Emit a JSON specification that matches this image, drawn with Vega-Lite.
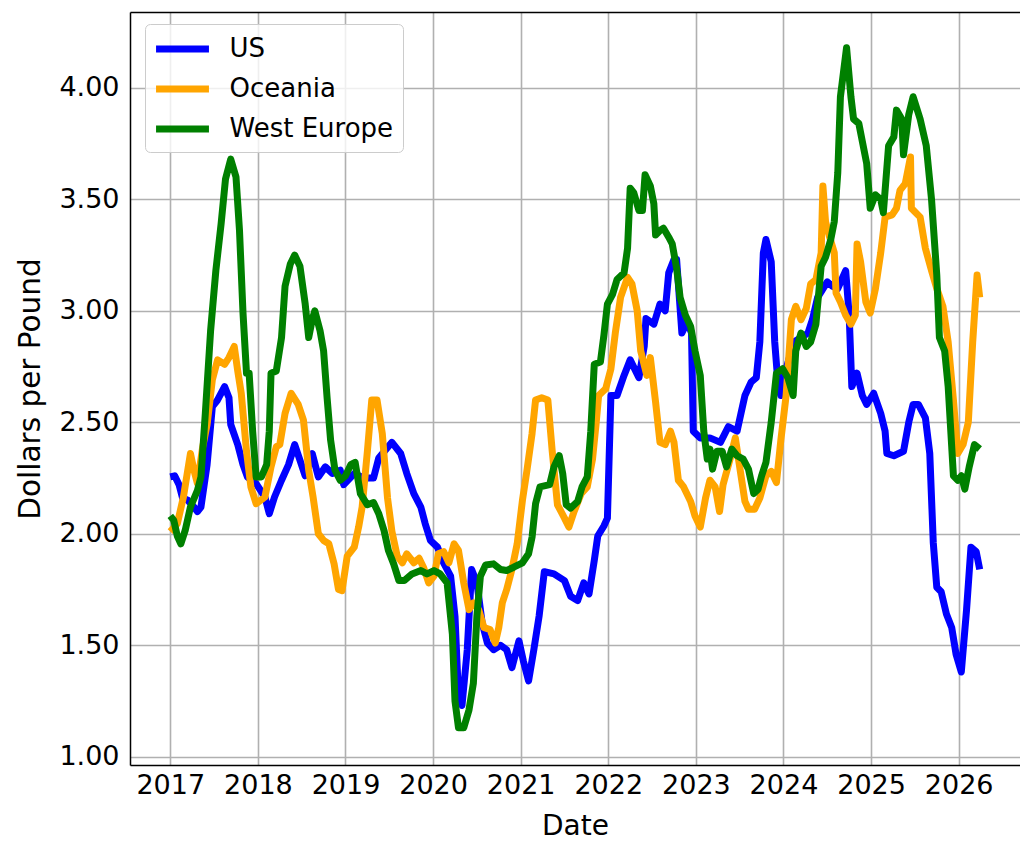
{
"$schema": "https://vega.github.io/schema/vega-lite/v6.json",
"width": 890, "height": 753,
"autosize": {"type": "none"},
"padding": {"left": 130, "top": 12, "right": 0, "bottom": 77},
"background": "white",
"config": {"view": {"stroke": null}, "font": "DejaVu Sans"},
"data": {"values": [
{"date":2017.00,"price":2.255,"region":"US"},{"date":2017.05,"price":2.26,"region":"US"},{"date":2017.10,"price":2.22,"region":"US"},{"date":2017.14,"price":2.16,"region":"US"},{"date":2017.20,"price":2.15,"region":"US"},{"date":2017.27,"price":2.12,"region":"US"},{"date":2017.31,"price":2.10,"region":"US"},{"date":2017.35,"price":2.12,"region":"US"},{"date":2017.42,"price":2.31,"region":"US"},{"date":2017.48,"price":2.57,"region":"US"},{"date":2017.54,"price":2.60,"region":"US"},{"date":2017.62,"price":2.66,"region":"US"},{"date":2017.67,"price":2.61,"region":"US"},{"date":2017.69,"price":2.49,"region":"US"},{"date":2017.77,"price":2.40,"region":"US"},{"date":2017.83,"price":2.31,"region":"US"},{"date":2017.88,"price":2.255,"region":"US"},{"date":2017.98,"price":2.225,"region":"US"},{"date":2018.08,"price":2.165,"region":"US"},{"date":2018.13,"price":2.09,"region":"US"},{"date":2018.19,"price":2.165,"region":"US"},{"date":2018.27,"price":2.24,"region":"US"},{"date":2018.35,"price":2.31,"region":"US"},{"date":2018.42,"price":2.40,"region":"US"},{"date":2018.48,"price":2.33,"region":"US"},{"date":2018.54,"price":2.26,"region":"US"},{"date":2018.62,"price":2.36,"region":"US"},{"date":2018.69,"price":2.255,"region":"US"},{"date":2018.77,"price":2.30,"region":"US"},{"date":2018.85,"price":2.27,"region":"US"},{"date":2018.94,"price":2.285,"region":"US"},{"date":2018.98,"price":2.22,"region":"US"},{"date":2019.10,"price":2.27,"region":"US"},{"date":2019.21,"price":2.25,"region":"US"},{"date":2019.32,"price":2.25,"region":"US"},{"date":2019.38,"price":2.34,"region":"US"},{"date":2019.53,"price":2.41,"region":"US"},{"date":2019.63,"price":2.36,"region":"US"},{"date":2019.70,"price":2.27,"region":"US"},{"date":2019.78,"price":2.18,"region":"US"},{"date":2019.86,"price":2.12,"region":"US"},{"date":2019.91,"price":2.045,"region":"US"},{"date":2019.97,"price":1.97,"region":"US"},{"date":2020.05,"price":1.94,"region":"US"},{"date":2020.12,"price":1.87,"region":"US"},{"date":2020.20,"price":1.81,"region":"US"},{"date":2020.25,"price":1.63,"region":"US"},{"date":2020.29,"price":1.27,"region":"US"},{"date":2020.33,"price":1.23,"region":"US"},{"date":2020.39,"price":1.48,"region":"US"},{"date":2020.44,"price":1.84,"region":"US"},{"date":2020.50,"price":1.78,"region":"US"},{"date":2020.56,"price":1.60,"region":"US"},{"date":2020.62,"price":1.51,"region":"US"},{"date":2020.69,"price":1.48,"region":"US"},{"date":2020.77,"price":1.50,"region":"US"},{"date":2020.84,"price":1.48,"region":"US"},{"date":2020.90,"price":1.40,"region":"US"},{"date":2020.98,"price":1.52,"region":"US"},{"date":2021.03,"price":1.43,"region":"US"},{"date":2021.09,"price":1.34,"region":"US"},{"date":2021.15,"price":1.48,"region":"US"},{"date":2021.21,"price":1.63,"region":"US"},{"date":2021.27,"price":1.83,"region":"US"},{"date":2021.38,"price":1.82,"region":"US"},{"date":2021.50,"price":1.79,"region":"US"},{"date":2021.57,"price":1.72,"region":"US"},{"date":2021.65,"price":1.70,"region":"US"},{"date":2021.72,"price":1.78,"region":"US"},{"date":2021.78,"price":1.73,"region":"US"},{"date":2021.84,"price":1.88,"region":"US"},{"date":2021.88,"price":1.99,"region":"US"},{"date":2021.95,"price":2.035,"region":"US"},{"date":2021.99,"price":2.07,"region":"US"},{"date":2022.03,"price":2.62,"region":"US"},{"date":2022.10,"price":2.62,"region":"US"},{"date":2022.18,"price":2.71,"region":"US"},{"date":2022.25,"price":2.78,"region":"US"},{"date":2022.35,"price":2.70,"region":"US"},{"date":2022.41,"price":2.84,"region":"US"},{"date":2022.43,"price":2.965,"region":"US"},{"date":2022.52,"price":2.94,"region":"US"},{"date":2022.59,"price":3.03,"region":"US"},{"date":2022.65,"price":3.00,"region":"US"},{"date":2022.69,"price":3.17,"region":"US"},{"date":2022.75,"price":3.23,"region":"US"},{"date":2022.78,"price":3.23,"region":"US"},{"date":2022.84,"price":2.90,"region":"US"},{"date":2022.90,"price":2.95,"region":"US"},{"date":2022.95,"price":2.90,"region":"US"},{"date":2022.97,"price":2.46,"region":"US"},{"date":2023.05,"price":2.43,"region":"US"},{"date":2023.16,"price":2.43,"region":"US"},{"date":2023.28,"price":2.41,"region":"US"},{"date":2023.37,"price":2.48,"region":"US"},{"date":2023.47,"price":2.46,"region":"US"},{"date":2023.52,"price":2.55,"region":"US"},{"date":2023.56,"price":2.62,"region":"US"},{"date":2023.63,"price":2.68,"region":"US"},{"date":2023.69,"price":2.70,"region":"US"},{"date":2023.73,"price":2.86,"region":"US"},{"date":2023.77,"price":3.26,"region":"US"},{"date":2023.80,"price":3.32,"region":"US"},{"date":2023.86,"price":3.22,"region":"US"},{"date":2023.90,"price":2.86,"region":"US"},{"date":2023.94,"price":2.66,"region":"US"},{"date":2023.97,"price":2.62,"region":"US"},{"date":2024.00,"price":2.70,"region":"US"},{"date":2024.12,"price":2.86,"region":"US"},{"date":2024.28,"price":2.90,"region":"US"},{"date":2024.33,"price":2.96,"region":"US"},{"date":2024.39,"price":3.06,"region":"US"},{"date":2024.50,"price":3.13,"region":"US"},{"date":2024.56,"price":3.11,"region":"US"},{"date":2024.62,"price":3.10,"region":"US"},{"date":2024.71,"price":3.18,"region":"US"},{"date":2024.75,"price":2.98,"region":"US"},{"date":2024.78,"price":2.66,"region":"US"},{"date":2024.84,"price":2.72,"region":"US"},{"date":2024.90,"price":2.62,"region":"US"},{"date":2024.95,"price":2.58,"region":"US"},{"date":2025.03,"price":2.63,"region":"US"},{"date":2025.11,"price":2.54,"region":"US"},{"date":2025.16,"price":2.46,"region":"US"},{"date":2025.18,"price":2.36,"region":"US"},{"date":2025.26,"price":2.35,"region":"US"},{"date":2025.37,"price":2.37,"region":"US"},{"date":2025.43,"price":2.50,"region":"US"},{"date":2025.48,"price":2.58,"region":"US"},{"date":2025.54,"price":2.58,"region":"US"},{"date":2025.62,"price":2.52,"region":"US"},{"date":2025.67,"price":2.36,"region":"US"},{"date":2025.71,"price":1.96,"region":"US"},{"date":2025.75,"price":1.76,"region":"US"},{"date":2025.80,"price":1.74,"region":"US"},{"date":2025.86,"price":1.64,"region":"US"},{"date":2025.92,"price":1.58,"region":"US"},{"date":2025.97,"price":1.46,"region":"US"},{"date":2026.03,"price":1.38,"region":"US"},{"date":2026.09,"price":1.66,"region":"US"},{"date":2026.14,"price":1.94,"region":"US"},{"date":2026.20,"price":1.92,"region":"US"},{"date":2026.24,"price":1.84,"region":"US"},
{"date":2017.00,"price":2.01,"region":"Oceania"},{"date":2017.08,"price":2.045,"region":"Oceania"},{"date":2017.15,"price":2.165,"region":"Oceania"},{"date":2017.23,"price":2.36,"region":"Oceania"},{"date":2017.27,"price":2.285,"region":"Oceania"},{"date":2017.31,"price":2.225,"region":"Oceania"},{"date":2017.37,"price":2.39,"region":"Oceania"},{"date":2017.42,"price":2.49,"region":"Oceania"},{"date":2017.48,"price":2.69,"region":"Oceania"},{"date":2017.54,"price":2.78,"region":"Oceania"},{"date":2017.62,"price":2.76,"region":"Oceania"},{"date":2017.67,"price":2.79,"region":"Oceania"},{"date":2017.73,"price":2.84,"region":"Oceania"},{"date":2017.77,"price":2.73,"region":"Oceania"},{"date":2017.81,"price":2.63,"region":"Oceania"},{"date":2017.87,"price":2.37,"region":"Oceania"},{"date":2017.92,"price":2.21,"region":"Oceania"},{"date":2017.98,"price":2.135,"region":"Oceania"},{"date":2018.08,"price":2.165,"region":"Oceania"},{"date":2018.15,"price":2.30,"region":"Oceania"},{"date":2018.21,"price":2.39,"region":"Oceania"},{"date":2018.25,"price":2.40,"region":"Oceania"},{"date":2018.31,"price":2.54,"region":"Oceania"},{"date":2018.38,"price":2.63,"region":"Oceania"},{"date":2018.46,"price":2.58,"region":"Oceania"},{"date":2018.52,"price":2.51,"region":"Oceania"},{"date":2018.58,"price":2.285,"region":"Oceania"},{"date":2018.63,"price":2.165,"region":"Oceania"},{"date":2018.69,"price":2.00,"region":"Oceania"},{"date":2018.75,"price":1.97,"region":"Oceania"},{"date":2018.81,"price":1.955,"region":"Oceania"},{"date":2018.87,"price":1.865,"region":"Oceania"},{"date":2018.92,"price":1.75,"region":"Oceania"},{"date":2018.96,"price":1.745,"region":"Oceania"},{"date":2019.02,"price":1.90,"region":"Oceania"},{"date":2019.10,"price":1.94,"region":"Oceania"},{"date":2019.15,"price":2.03,"region":"Oceania"},{"date":2019.19,"price":2.12,"region":"Oceania"},{"date":2019.25,"price":2.37,"region":"Oceania"},{"date":2019.30,"price":2.60,"region":"Oceania"},{"date":2019.36,"price":2.60,"region":"Oceania"},{"date":2019.42,"price":2.45,"region":"Oceania"},{"date":2019.48,"price":2.16,"region":"Oceania"},{"date":2019.53,"price":2.01,"region":"Oceania"},{"date":2019.59,"price":1.90,"region":"Oceania"},{"date":2019.65,"price":1.87,"region":"Oceania"},{"date":2019.70,"price":1.91,"region":"Oceania"},{"date":2019.78,"price":1.87,"region":"Oceania"},{"date":2019.84,"price":1.89,"region":"Oceania"},{"date":2019.89,"price":1.85,"region":"Oceania"},{"date":2019.95,"price":1.78,"region":"Oceania"},{"date":2020.01,"price":1.81,"region":"Oceania"},{"date":2020.06,"price":1.91,"region":"Oceania"},{"date":2020.12,"price":1.92,"region":"Oceania"},{"date":2020.18,"price":1.87,"region":"Oceania"},{"date":2020.24,"price":1.955,"region":"Oceania"},{"date":2020.29,"price":1.925,"region":"Oceania"},{"date":2020.35,"price":1.78,"region":"Oceania"},{"date":2020.41,"price":1.66,"region":"Oceania"},{"date":2020.46,"price":1.69,"region":"Oceania"},{"date":2020.52,"price":1.66,"region":"Oceania"},{"date":2020.58,"price":1.58,"region":"Oceania"},{"date":2020.65,"price":1.57,"region":"Oceania"},{"date":2020.71,"price":1.51,"region":"Oceania"},{"date":2020.75,"price":1.58,"region":"Oceania"},{"date":2020.79,"price":1.69,"region":"Oceania"},{"date":2020.84,"price":1.75,"region":"Oceania"},{"date":2020.90,"price":1.84,"region":"Oceania"},{"date":2020.96,"price":1.955,"region":"Oceania"},{"date":2021.02,"price":2.15,"region":"Oceania"},{"date":2021.07,"price":2.28,"region":"Oceania"},{"date":2021.13,"price":2.45,"region":"Oceania"},{"date":2021.17,"price":2.60,"region":"Oceania"},{"date":2021.24,"price":2.61,"region":"Oceania"},{"date":2021.31,"price":2.60,"region":"Oceania"},{"date":2021.36,"price":2.37,"region":"Oceania"},{"date":2021.42,"price":2.13,"region":"Oceania"},{"date":2021.50,"price":2.07,"region":"Oceania"},{"date":2021.55,"price":2.03,"region":"Oceania"},{"date":2021.61,"price":2.10,"region":"Oceania"},{"date":2021.69,"price":2.18,"region":"Oceania"},{"date":2021.76,"price":2.21,"region":"Oceania"},{"date":2021.82,"price":2.335,"region":"Oceania"},{"date":2021.86,"price":2.49,"region":"Oceania"},{"date":2021.89,"price":2.62,"region":"Oceania"},{"date":2021.97,"price":2.65,"region":"Oceania"},{"date":2022.03,"price":2.74,"region":"Oceania"},{"date":2022.08,"price":2.90,"region":"Oceania"},{"date":2022.14,"price":3.06,"region":"Oceania"},{"date":2022.22,"price":3.15,"region":"Oceania"},{"date":2022.27,"price":3.12,"region":"Oceania"},{"date":2022.33,"price":3.00,"region":"Oceania"},{"date":2022.37,"price":2.82,"region":"Oceania"},{"date":2022.44,"price":2.71,"region":"Oceania"},{"date":2022.48,"price":2.79,"region":"Oceania"},{"date":2022.54,"price":2.59,"region":"Oceania"},{"date":2022.59,"price":2.41,"region":"Oceania"},{"date":2022.65,"price":2.40,"region":"Oceania"},{"date":2022.71,"price":2.46,"region":"Oceania"},{"date":2022.75,"price":2.41,"region":"Oceania"},{"date":2022.80,"price":2.24,"region":"Oceania"},{"date":2022.86,"price":2.21,"region":"Oceania"},{"date":2022.94,"price":2.145,"region":"Oceania"},{"date":2022.99,"price":2.08,"region":"Oceania"},{"date":2023.05,"price":2.03,"region":"Oceania"},{"date":2023.11,"price":2.16,"region":"Oceania"},{"date":2023.16,"price":2.24,"region":"Oceania"},{"date":2023.22,"price":2.21,"region":"Oceania"},{"date":2023.27,"price":2.10,"region":"Oceania"},{"date":2023.31,"price":2.22,"region":"Oceania"},{"date":2023.39,"price":2.335,"region":"Oceania"},{"date":2023.45,"price":2.43,"region":"Oceania"},{"date":2023.50,"price":2.30,"region":"Oceania"},{"date":2023.56,"price":2.145,"region":"Oceania"},{"date":2023.60,"price":2.11,"region":"Oceania"},{"date":2023.67,"price":2.11,"region":"Oceania"},{"date":2023.73,"price":2.16,"region":"Oceania"},{"date":2023.80,"price":2.26,"region":"Oceania"},{"date":2023.86,"price":2.28,"region":"Oceania"},{"date":2023.92,"price":2.23,"region":"Oceania"},{"date":2023.97,"price":2.42,"region":"Oceania"},{"date":2024.03,"price":2.62,"region":"Oceania"},{"date":2024.09,"price":2.96,"region":"Oceania"},{"date":2024.14,"price":3.02,"region":"Oceania"},{"date":2024.20,"price":2.96,"region":"Oceania"},{"date":2024.26,"price":3.01,"region":"Oceania"},{"date":2024.31,"price":3.12,"region":"Oceania"},{"date":2024.37,"price":3.14,"region":"Oceania"},{"date":2024.43,"price":3.26,"region":"Oceania"},{"date":2024.45,"price":3.56,"region":"Oceania"},{"date":2024.48,"price":3.40,"region":"Oceania"},{"date":2024.52,"price":3.34,"region":"Oceania"},{"date":2024.58,"price":3.26,"region":"Oceania"},{"date":2024.60,"price":3.08,"region":"Oceania"},{"date":2024.65,"price":3.04,"region":"Oceania"},{"date":2024.71,"price":2.98,"region":"Oceania"},{"date":2024.77,"price":2.94,"region":"Oceania"},{"date":2024.82,"price":2.98,"region":"Oceania"},{"date":2024.84,"price":3.30,"region":"Oceania"},{"date":2024.88,"price":3.22,"region":"Oceania"},{"date":2024.94,"price":3.04,"region":"Oceania"},{"date":2024.99,"price":2.99,"region":"Oceania"},{"date":2025.05,"price":3.10,"region":"Oceania"},{"date":2025.11,"price":3.26,"region":"Oceania"},{"date":2025.16,"price":3.42,"region":"Oceania"},{"date":2025.24,"price":3.43,"region":"Oceania"},{"date":2025.29,"price":3.46,"region":"Oceania"},{"date":2025.33,"price":3.54,"region":"Oceania"},{"date":2025.39,"price":3.57,"region":"Oceania"},{"date":2025.45,"price":3.69,"region":"Oceania"},{"date":2025.46,"price":3.46,"region":"Oceania"},{"date":2025.56,"price":3.42,"region":"Oceania"},{"date":2025.62,"price":3.28,"region":"Oceania"},{"date":2025.69,"price":3.18,"region":"Oceania"},{"date":2025.75,"price":3.10,"region":"Oceania"},{"date":2025.82,"price":3.02,"region":"Oceania"},{"date":2025.88,"price":2.86,"region":"Oceania"},{"date":2025.94,"price":2.60,"region":"Oceania"},{"date":2025.99,"price":2.36,"region":"Oceania"},{"date":2026.05,"price":2.40,"region":"Oceania"},{"date":2026.11,"price":2.50,"region":"Oceania"},{"date":2026.16,"price":2.86,"region":"Oceania"},{"date":2026.21,"price":3.16,"region":"Oceania"},{"date":2026.24,"price":3.06,"region":"Oceania"},
{"date":2017.00,"price":2.08,"region":"West Europe"},{"date":2017.04,"price":2.06,"region":"West Europe"},{"date":2017.08,"price":1.99,"region":"West Europe"},{"date":2017.12,"price":1.955,"region":"West Europe"},{"date":2017.17,"price":2.015,"region":"West Europe"},{"date":2017.23,"price":2.12,"region":"West Europe"},{"date":2017.31,"price":2.195,"region":"West Europe"},{"date":2017.35,"price":2.255,"region":"West Europe"},{"date":2017.40,"price":2.54,"region":"West Europe"},{"date":2017.46,"price":2.91,"region":"West Europe"},{"date":2017.52,"price":3.18,"region":"West Europe"},{"date":2017.58,"price":3.39,"region":"West Europe"},{"date":2017.63,"price":3.59,"region":"West Europe"},{"date":2017.69,"price":3.68,"region":"West Europe"},{"date":2017.75,"price":3.60,"region":"West Europe"},{"date":2017.79,"price":3.36,"region":"West Europe"},{"date":2017.83,"price":2.99,"region":"West Europe"},{"date":2017.87,"price":2.72,"region":"West Europe"},{"date":2017.90,"price":2.72,"region":"West Europe"},{"date":2017.94,"price":2.46,"region":"West Europe"},{"date":2017.98,"price":2.255,"region":"West Europe"},{"date":2018.04,"price":2.255,"region":"West Europe"},{"date":2018.10,"price":2.31,"region":"West Europe"},{"date":2018.13,"price":2.46,"region":"West Europe"},{"date":2018.15,"price":2.72,"region":"West Europe"},{"date":2018.21,"price":2.73,"region":"West Europe"},{"date":2018.27,"price":2.88,"region":"West Europe"},{"date":2018.31,"price":3.11,"region":"West Europe"},{"date":2018.37,"price":3.21,"region":"West Europe"},{"date":2018.42,"price":3.25,"region":"West Europe"},{"date":2018.48,"price":3.20,"region":"West Europe"},{"date":2018.54,"price":3.03,"region":"West Europe"},{"date":2018.58,"price":2.88,"region":"West Europe"},{"date":2018.62,"price":2.96,"region":"West Europe"},{"date":2018.65,"price":3.00,"region":"West Europe"},{"date":2018.71,"price":2.91,"region":"West Europe"},{"date":2018.75,"price":2.82,"region":"West Europe"},{"date":2018.79,"price":2.61,"region":"West Europe"},{"date":2018.83,"price":2.42,"region":"West Europe"},{"date":2018.88,"price":2.285,"region":"West Europe"},{"date":2018.94,"price":2.24,"region":"West Europe"},{"date":2019.00,"price":2.26,"region":"West Europe"},{"date":2019.06,"price":2.31,"region":"West Europe"},{"date":2019.11,"price":2.32,"region":"West Europe"},{"date":2019.17,"price":2.18,"region":"West Europe"},{"date":2019.25,"price":2.13,"region":"West Europe"},{"date":2019.32,"price":2.14,"region":"West Europe"},{"date":2019.38,"price":2.09,"region":"West Europe"},{"date":2019.44,"price":2.015,"region":"West Europe"},{"date":2019.49,"price":1.925,"region":"West Europe"},{"date":2019.55,"price":1.865,"region":"West Europe"},{"date":2019.61,"price":1.79,"region":"West Europe"},{"date":2019.67,"price":1.79,"region":"West Europe"},{"date":2019.76,"price":1.82,"region":"West Europe"},{"date":2019.86,"price":1.835,"region":"West Europe"},{"date":2019.93,"price":1.82,"region":"West Europe"},{"date":2020.01,"price":1.835,"region":"West Europe"},{"date":2020.08,"price":1.82,"region":"West Europe"},{"date":2020.16,"price":1.78,"region":"West Europe"},{"date":2020.22,"price":1.55,"region":"West Europe"},{"date":2020.25,"price":1.25,"region":"West Europe"},{"date":2020.29,"price":1.13,"region":"West Europe"},{"date":2020.35,"price":1.13,"region":"West Europe"},{"date":2020.41,"price":1.21,"region":"West Europe"},{"date":2020.46,"price":1.33,"region":"West Europe"},{"date":2020.50,"price":1.63,"region":"West Europe"},{"date":2020.54,"price":1.81,"region":"West Europe"},{"date":2020.60,"price":1.86,"region":"West Europe"},{"date":2020.69,"price":1.865,"region":"West Europe"},{"date":2020.77,"price":1.84,"region":"West Europe"},{"date":2020.84,"price":1.835,"region":"West Europe"},{"date":2020.92,"price":1.85,"region":"West Europe"},{"date":2021.02,"price":1.87,"region":"West Europe"},{"date":2021.09,"price":1.91,"region":"West Europe"},{"date":2021.13,"price":1.985,"region":"West Europe"},{"date":2021.17,"price":2.135,"region":"West Europe"},{"date":2021.22,"price":2.21,"region":"West Europe"},{"date":2021.33,"price":2.22,"region":"West Europe"},{"date":2021.38,"price":2.30,"region":"West Europe"},{"date":2021.44,"price":2.35,"region":"West Europe"},{"date":2021.48,"price":2.27,"region":"West Europe"},{"date":2021.52,"price":2.13,"region":"West Europe"},{"date":2021.57,"price":2.115,"region":"West Europe"},{"date":2021.65,"price":2.145,"region":"West Europe"},{"date":2021.70,"price":2.21,"region":"West Europe"},{"date":2021.76,"price":2.255,"region":"West Europe"},{"date":2021.80,"price":2.46,"region":"West Europe"},{"date":2021.84,"price":2.76,"region":"West Europe"},{"date":2021.91,"price":2.77,"region":"West Europe"},{"date":2021.95,"price":2.89,"region":"West Europe"},{"date":2021.99,"price":3.03,"region":"West Europe"},{"date":2022.05,"price":3.075,"region":"West Europe"},{"date":2022.10,"price":3.14,"region":"West Europe"},{"date":2022.18,"price":3.17,"region":"West Europe"},{"date":2022.22,"price":3.28,"region":"West Europe"},{"date":2022.25,"price":3.55,"region":"West Europe"},{"date":2022.29,"price":3.53,"region":"West Europe"},{"date":2022.35,"price":3.45,"region":"West Europe"},{"date":2022.39,"price":3.45,"region":"West Europe"},{"date":2022.42,"price":3.61,"region":"West Europe"},{"date":2022.48,"price":3.56,"region":"West Europe"},{"date":2022.52,"price":3.48,"region":"West Europe"},{"date":2022.54,"price":3.34,"region":"West Europe"},{"date":2022.59,"price":3.36,"region":"West Europe"},{"date":2022.63,"price":3.37,"region":"West Europe"},{"date":2022.69,"price":3.33,"region":"West Europe"},{"date":2022.73,"price":3.30,"region":"West Europe"},{"date":2022.78,"price":3.19,"region":"West Europe"},{"date":2022.82,"price":3.06,"region":"West Europe"},{"date":2022.88,"price":2.98,"region":"West Europe"},{"date":2022.94,"price":2.93,"region":"West Europe"},{"date":2022.99,"price":2.82,"region":"West Europe"},{"date":2023.05,"price":2.71,"region":"West Europe"},{"date":2023.09,"price":2.46,"region":"West Europe"},{"date":2023.13,"price":2.335,"region":"West Europe"},{"date":2023.16,"price":2.38,"region":"West Europe"},{"date":2023.19,"price":2.29,"region":"West Europe"},{"date":2023.24,"price":2.37,"region":"West Europe"},{"date":2023.30,"price":2.37,"region":"West Europe"},{"date":2023.35,"price":2.30,"region":"West Europe"},{"date":2023.41,"price":2.38,"region":"West Europe"},{"date":2023.47,"price":2.35,"region":"West Europe"},{"date":2023.54,"price":2.335,"region":"West Europe"},{"date":2023.60,"price":2.29,"region":"West Europe"},{"date":2023.66,"price":2.18,"region":"West Europe"},{"date":2023.71,"price":2.20,"region":"West Europe"},{"date":2023.75,"price":2.26,"region":"West Europe"},{"date":2023.80,"price":2.32,"region":"West Europe"},{"date":2023.86,"price":2.50,"region":"West Europe"},{"date":2023.92,"price":2.72,"region":"West Europe"},{"date":2023.99,"price":2.74,"region":"West Europe"},{"date":2024.05,"price":2.70,"region":"West Europe"},{"date":2024.11,"price":2.62,"region":"West Europe"},{"date":2024.14,"price":2.82,"region":"West Europe"},{"date":2024.20,"price":2.90,"region":"West Europe"},{"date":2024.26,"price":2.84,"region":"West Europe"},{"date":2024.31,"price":2.86,"region":"West Europe"},{"date":2024.37,"price":2.94,"region":"West Europe"},{"date":2024.43,"price":3.20,"region":"West Europe"},{"date":2024.48,"price":3.24,"region":"West Europe"},{"date":2024.54,"price":3.32,"region":"West Europe"},{"date":2024.58,"price":3.40,"region":"West Europe"},{"date":2024.62,"price":3.62,"region":"West Europe"},{"date":2024.65,"price":3.96,"region":"West Europe"},{"date":2024.72,"price":4.18,"region":"West Europe"},{"date":2024.77,"price":3.96,"region":"West Europe"},{"date":2024.80,"price":3.86,"region":"West Europe"},{"date":2024.86,"price":3.84,"region":"West Europe"},{"date":2024.90,"price":3.76,"region":"West Europe"},{"date":2024.95,"price":3.66,"region":"West Europe"},{"date":2024.99,"price":3.46,"region":"West Europe"},{"date":2025.05,"price":3.52,"region":"West Europe"},{"date":2025.11,"price":3.50,"region":"West Europe"},{"date":2025.14,"price":3.44,"region":"West Europe"},{"date":2025.20,"price":3.74,"region":"West Europe"},{"date":2025.26,"price":3.78,"region":"West Europe"},{"date":2025.29,"price":3.90,"region":"West Europe"},{"date":2025.35,"price":3.86,"region":"West Europe"},{"date":2025.37,"price":3.70,"region":"West Europe"},{"date":2025.43,"price":3.88,"region":"West Europe"},{"date":2025.48,"price":3.96,"region":"West Europe"},{"date":2025.56,"price":3.86,"region":"West Europe"},{"date":2025.63,"price":3.74,"region":"West Europe"},{"date":2025.69,"price":3.50,"region":"West Europe"},{"date":2025.75,"price":3.16,"region":"West Europe"},{"date":2025.78,"price":2.88,"region":"West Europe"},{"date":2025.84,"price":2.82,"region":"West Europe"},{"date":2025.88,"price":2.66,"region":"West Europe"},{"date":2025.94,"price":2.26,"region":"West Europe"},{"date":2025.99,"price":2.24,"region":"West Europe"},{"date":2026.03,"price":2.26,"region":"West Europe"},{"date":2026.07,"price":2.20,"region":"West Europe"},{"date":2026.12,"price":2.30,"region":"West Europe"},{"date":2026.18,"price":2.40,"region":"West Europe"},{"date":2026.24,"price":2.38,"region":"West Europe"}
]},
"layer": [
{
"mark": {"type": "line", "strokeWidth": 7, "strokeJoin": "round"},
"encoding": {
 "x": {"field": "date", "type": "quantitative", "scale": {"domain": [2016.54, 2026.70], "nice": false, "zero": false},
   "axis": {"title": "Date", "values": [2017,2018,2019,2020,2021,2022,2023,2024,2025,2026], "format": "d", "grid": true, "gridColor": "#b0b0b0", "gridWidth": 1.6, "domainColor": "black", "domainWidth": 1.5, "ticks": false, "labelFontSize": 27, "labelColor": "black", "labelPadding": 7, "labelFlush": false, "titleFontSize": 28, "titleFontWeight": "normal", "titleColor": "black", "titlePadding": 14}},
 "y": {"field": "price", "type": "quantitative", "scale": {"domain": [0.963, 4.34], "nice": false, "zero": false},
   "axis": {"title": "Dollars per Pound", "values": [1,1.5,2,2.5,3,3.5,4], "format": ".2f", "grid": true, "gridColor": "#b0b0b0", "gridWidth": 1.6, "domainColor": "black", "domainWidth": 1.5, "ticks": false, "labelFontSize": 27, "labelColor": "black", "labelPadding": 11, "titleFontSize": 29.5, "titleFontWeight": "normal", "titleColor": "black", "titlePadding": 13}},
 "color": {"field": "region", "type": "nominal", "scale": {"domain": ["US", "Oceania", "West Europe"], "range": ["#0000ff", "#ffa500", "#008000"]},
   "legend": {"title": null, "orient": "none", "legendX": 15, "legendY": 12, "symbolType": "M-2.16,0H2.16", "symbolSize": 600, "symbolStrokeWidth": 7, "labelFontSize": 26, "labelLimit": 400, "labelColor": "black", "padding": 9, "rowPadding": 10, "symbolOffset": 12.5, "labelOffset": 31, "fillColor": "rgba(255,255,255,0.8)", "strokeColor": "#cccccc", "cornerRadius": 5}}
}
},
{
"mark": {"type": "line", "opacity": 0},
"encoding": {
 "x": {"field": "date", "type": "quantitative", "axis": {"orient": "top", "title": null, "labels": false, "ticks": false, "grid": false, "domain": true, "domainColor": "black", "domainWidth": 1.5}},
 "y": {"field": "price", "type": "quantitative"}
}
}
],
"resolve": {"axis": {"x": "independent"}}
}
